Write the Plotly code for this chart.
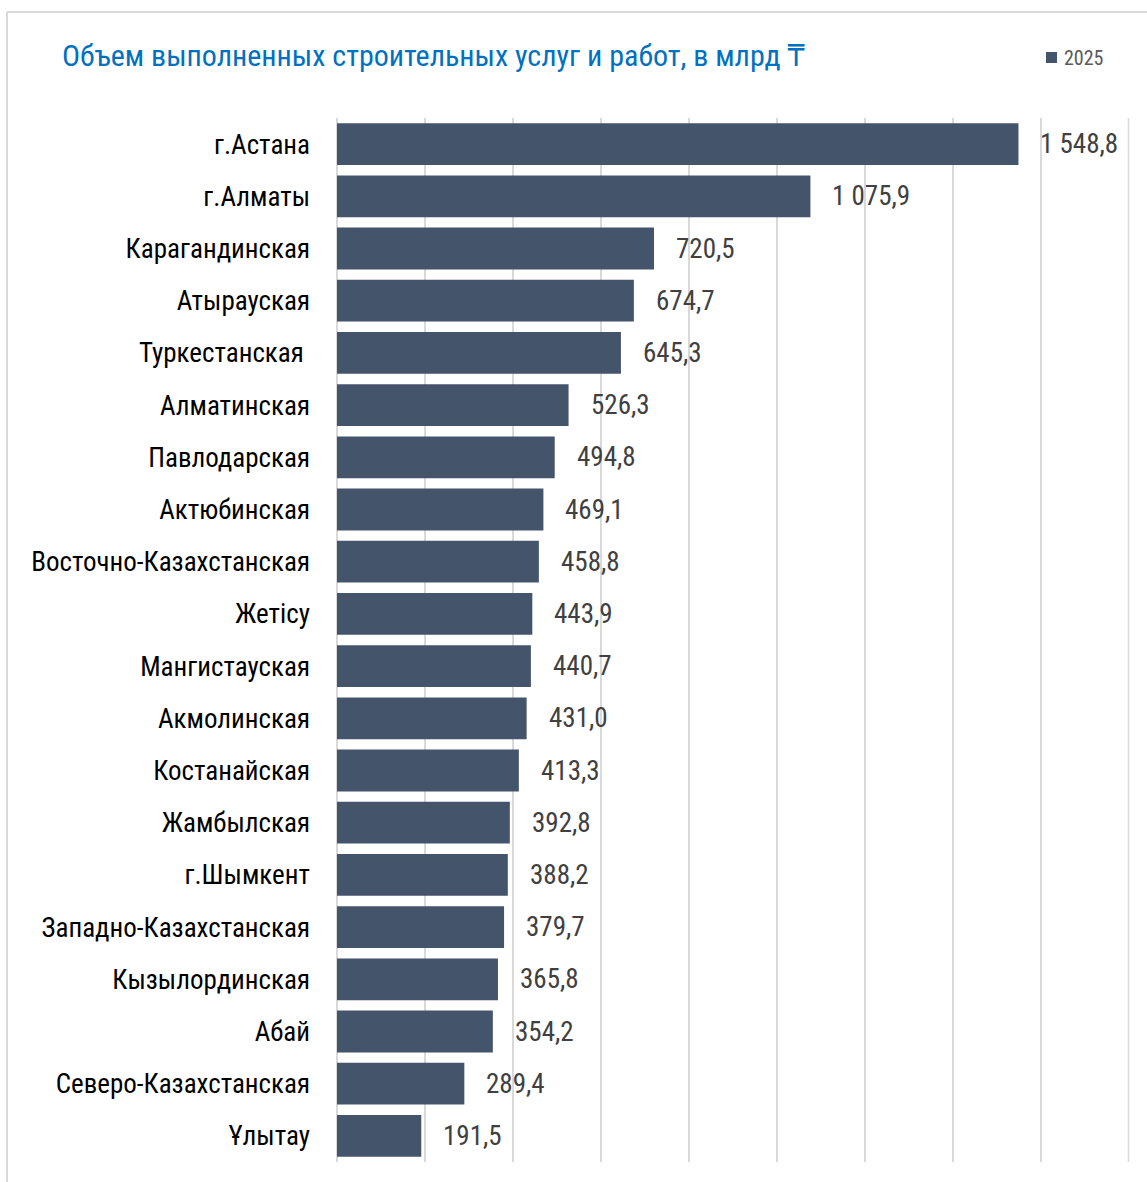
import plotly.graph_objects as go

# Regions (top to bottom) and construction volume, bln tenge
regions = [
    "г.Астана", "г.Алматы", "Карагандинская", "Атырауская", "Туркестанская\u00a0",
    "Алматинская", "Павлодарская", "Актюбинская", "Восточно-Казахстанская", "Жетісу",
    "Мангистауская", "Акмолинская", "Костанайская", "Жамбылская", "г.Шымкент",
    "Западно-Казахстанская", "Кызылординская", "Абай", "Северо-Казахстанская", "Ұлытау",
]
values_2025 = [
    1548.8, 1075.9, 720.5, 674.7, 645.3,
    526.3, 494.8, 469.1, 458.8, 443.9,
    440.7, 431.0, 413.3, 392.8, 388.2,
    379.7, 365.8, 354.2, 289.4, 191.5,
]
series_name = "2025"
title_text = "Объем выполненных строительных услуг и работ, в млрд ₸"
x_max = 1800

FONT = "Roboto Condensed, DejaVu Sans Condensed, sans-serif"
BAR_COLOR = "#44546A"
GRID = "#d9d9d9"
W, H = 1147, 1182
ML, MR, MT, MB = 337, 18, 118, 20
PW, PH = W - ML - MR, H - MT - MB


def px_x(px):
    return (px - ML) / PW


def px_y(py):
    return (H - MB - py) / PH


def fmt(v):
    s = f"{v:,.1f}"
    return s.replace(",", " ").replace(".", ",")


fig = go.Figure()
fig.add_trace(go.Bar(
    x=values_2025,
    y=regions,
    orientation="h",
    name=series_name,
    marker=dict(color=BAR_COLOR, line=dict(width=0)),
    width=0.8,
    showlegend=False,
))

annotations = []
for r, v in zip(regions, values_2025):
    annotations.append(dict(
        x=v, y=r, xref="x", yref="y",
        text=fmt(v), showarrow=False,
        xanchor="left", yanchor="middle", xshift=20,
        font=dict(family=FONT, size=27, color="#404040"),
    ))

# chart title
annotations.append(dict(
    x=px_x(60), y=px_y(56), xref="paper", yref="paper",
    text=title_text, showarrow=False,
    xanchor="left", yanchor="middle",
    font=dict(family=FONT, size=30, color="#0070C0"),
))

# legend entry: swatch + series name
annotations.append(dict(
    x=px_x(1062), y=px_y(58), xref="paper", yref="paper",
    text=series_name, showarrow=False,
    xanchor="left", yanchor="middle",
    font=dict(family=FONT, size=20, color="#595959"),
))

shapes = [
    # grid line at the right end of the value axis (x = x_max, the plot edge)
    dict(type="line", xref="paper", yref="paper", layer="above",
         x0=px_x(1128.5), x1=px_x(1128.5), y0=0, y1=1,
         line=dict(color=GRID, width=1.5)),
    dict(type="rect", xref="paper", yref="paper",
         x0=px_x(1046), x1=px_x(1057), y0=px_y(63), y1=px_y(52),
         fillcolor=BAR_COLOR, line=dict(width=0)),
    dict(type="line", xref="paper", yref="paper",
         x0=px_x(7), x1=px_x(W + 5), y0=px_y(12), y1=px_y(12),
         line=dict(color=GRID, width=2)),
    dict(type="line", xref="paper", yref="paper",
         x0=px_x(7), x1=px_x(7), y0=px_y(12), y1=px_y(H + 5),
         line=dict(color=GRID, width=2)),
]

fig.update_layout(
    width=W, height=H,
    margin=dict(l=ML, r=MR, t=MT, b=MB, autoexpand=False),
    paper_bgcolor="white", plot_bgcolor="white",
    bargap=0.2,
    showlegend=False,
    xaxis=dict(
        range=[0, x_max], tick0=0, dtick=200, showticklabels=False,
        showgrid=True, gridcolor=GRID, gridwidth=1.5,
        zeroline=True, zerolinecolor=GRID, zerolinewidth=1.5,
        showline=False, fixedrange=True, automargin=False,
    ),
    yaxis=dict(
        autorange="reversed", showgrid=False, showline=False,
        ticks="", ticklabelstandoff=26, automargin=False,
        tickfont=dict(family=FONT, size=27, color="#000000"),
    ),
    annotations=annotations,
    shapes=shapes,
)

fig.write_html("out.html")
